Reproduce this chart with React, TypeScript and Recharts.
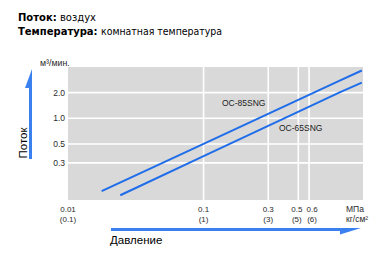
import React from "react";
import { LineChart, Line, XAxis, YAxis, CartesianGrid, ReferenceLine } from "recharts";

// Pressure (MPa) vs. flow (m³/min) for each model
const oc85 = [
  { p: 0.0177, q: 0.14 },
  { p: 0.1, q: 0.5 },
  { p: 1.0, q: 2.75 },
  { p: 1.47, q: 3.64 },
];
const oc65 = [
  { p: 0.0243, q: 0.125 },
  { p: 0.1, q: 0.36 },
  { p: 1.0, q: 2.0 },
  { p: 1.47, q: 2.62 },
];

const pressureTicks = [0.01, 0.1, 0.3, 0.5, 0.6];
const pressureLabels = ["0.01", "0.1", "0.3", "0.5", "0.6"];
const kgfLabels = ["(0.1)", "(1)", "(3)", "(5)", "(6)"];
const flowTicks = [0.3, 0.5, 1.0, 2.0];
const flowLabels = ["0.3", "0.5", "1.0", "2.0"];

const W = 386;
const H = 255;
const LINE_BLUE = "#1f6de9";
const ARROW_BLUE = "#3a80ef";
const TICK_FONT = "'Liberation Sans', Arial, sans-serif";
// spread the two closely spaced pressure labels apart a little
const labelShift = [0, 0, 0, -1.5, 3];

const XTick = (props: any) => {
  const { x, payload } = props;
  const i = pressureTicks.indexOf(payload.value);
  const lx = x + (labelShift[i] || 0);
  return (
    <g fontFamily={TICK_FONT} fontSize={8} fill="#2a2a2a">
      <text x={lx} y={212} textAnchor="middle">{pressureLabels[i]}</text>
      <text x={lx} y={222} textAnchor="middle">{kgfLabels[i]}</text>
    </g>
  );
};

const YTick = (props: any) => {
  const { y, payload } = props;
  const i = flowTicks.indexOf(payload.value);
  return (
    <text x={65} y={y + 3} textAnchor="end" fontFamily={TICK_FONT} fontSize={8.5} fill="#2a2a2a">
      {flowLabels[i]}
    </text>
  );
};

export default function App() {
  return (
    <div style={{ position: "relative", width: W, height: H, margin: "-8px 0 0 -8px", background: "#fff" }}>
      <LineChart width={W} height={H} margin={{ top: 67, right: 23, bottom: 54, left: 67 }}>
        <CartesianGrid fill="#d9d9d9" horizontal={false} vertical={false} />
        <XAxis
          type="number"
          dataKey="p"
          scale="log"
          domain={[0.01, 1.5]}
          ticks={pressureTicks}
          allowDataOverflow
          axisLine={false}
          tickLine={false}
          height={1}
          tick={(p: any) => <XTick {...p} />}
          interval={0}
        />
        <YAxis
          type="number"
          dataKey="q"
          scale="log"
          domain={[0.11, 4]}
          ticks={flowTicks}
          allowDataOverflow
          axisLine={false}
          tickLine={false}
          width={1}
          tick={(p: any) => <YTick {...p} />}
          interval={0}
        />
        {pressureTicks.slice(1).map((v) => (
          <ReferenceLine key={"x" + v} x={v} stroke="#ffffff" strokeWidth={1.6} />
        ))}
        {flowTicks.map((v) => (
          <ReferenceLine key={"y" + v} y={v} stroke="#ffffff" strokeWidth={1.6} />
        ))}
        <Line data={oc85} dataKey="q" stroke={LINE_BLUE} strokeWidth={2} dot={false} isAnimationActive={false} />
        <Line data={oc65} dataKey="q" stroke={LINE_BLUE} strokeWidth={2} dot={false} isAnimationActive={false} />
      </LineChart>
      <svg width={W} height={H} style={{ position: "absolute", left: 0, top: 0, pointerEvents: "none" }}>
        <g fontFamily="'DejaVu Sans', Verdana, sans-serif" fontSize={10} fill="#000">
          <text x={18} y={20.5}>
            <tspan fontWeight="bold">Поток:</tspan> воздух
          </text>
          <text x={18} y={35}>
            <tspan fontWeight="bold">Температура:</tspan>
            <tspan x={101} textLength={121} lengthAdjust="spacingAndGlyphs">комнатная температура</tspan>
          </text>
        </g>
        <text x={40} y={65.5} fontFamily={TICK_FONT} fontSize={8.8} fill="#2a2a2a">м³/мин.</text>
        <text x={346} y={211.5} fontFamily={TICK_FONT} fontSize={8.5} fill="#2a2a2a">МПа</text>
        <text x={346} y={221.5} fontFamily={TICK_FONT} fontSize={8.5} fill="#2a2a2a">кг/см²</text>
        <text x={222} y={106} fontFamily={TICK_FONT} fontSize={8.5} fill="#222">OC-85SNG</text>
        <text x={279} y={131} fontFamily={TICK_FONT} fontSize={8.5} fill="#222">OC-65SNG</text>
        {/* vertical axis arrow */}
        <polygon points="29,159 32,159 32,69 25,88 29,88" fill={ARROW_BLUE} />
        <text
          transform="translate(26.5,143) rotate(-90)"
          textAnchor="middle"
          fontFamily={TICK_FONT}
          fontSize={11.5}
          fill="#000"
        >
          Поток
        </text>
        {/* horizontal axis arrow */}
        <polygon points="111,228 361,228 340,234.5 340,231 111,231" fill={ARROW_BLUE} />
        <text x={110} y={244} fontFamily={TICK_FONT} fontSize={11.5} fill="#000">Давление</text>
      </svg>
    </div>
  );
}
